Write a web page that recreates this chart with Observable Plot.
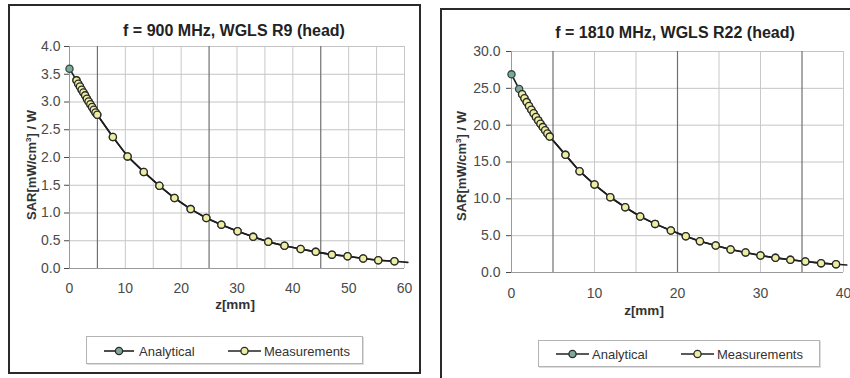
<!DOCTYPE html>
<html>
<head>
<meta charset="utf-8">
<script src="https://cdn.jsdelivr.net/npm/d3@7"></script>
<script src="https://cdn.jsdelivr.net/npm/@observablehq/plot@0.6"></script>
<style>
  html, body { margin: 0; padding: 0; background: #fff; }
  #root { position: relative; width: 850px; height: 378px; overflow: hidden; background: #fff;
          font-family: "Liberation Sans", Arial, Helvetica, sans-serif; color: #222; }
  .panel { position: absolute; box-sizing: border-box; border: 2px solid #2a2a2a; background: #fff; }
  .chart { position: absolute; top: 0; }
  .title { position: absolute; transform: translate(-50%, -50%); font-weight: bold; font-size: 16px; white-space: nowrap; color: #222; }
  .ylab { position: absolute; transform: translate(-50%, -50%) rotate(-90deg); font-weight: bold; font-size: 13px; white-space: nowrap; color: #333; }
  .ylab sup { font-size: 8px; vertical-align: 5px; line-height: 0; }
  .xlab { position: absolute; transform: translate(-50%, -50%); font-weight: bold; font-size: 13.5px; white-space: nowrap; color: #333; line-height: 1; }
  .legend { position: absolute; box-sizing: border-box; border: 1px solid #b4b4b4; background: #fff; box-shadow: 1px 1px 0 #ddd; }
  .legend svg { position: absolute; left: 0; top: 0; }
  .legend span { position: absolute; font-size: 13px; color: #333; transform: translateY(-50%); white-space: nowrap; }
</style>
</head>
<body>
<div id="root">
  <div class="panel" style="left:8px;top:4px;width:413px;height:370px;"></div>
  <div class="panel" style="left:440px;top:8px;width:430px;height:390px;"></div>
</div>
<script>
// ---------- data: left panel (900 MHz) ----------
const titleLeft = "f = 900 MHz, WGLS R9 (head)";
const zAnalLeft = [0, 1.25, 1.56, 1.87, 2.18, 2.49, 2.80, 3.11, 3.42, 3.73, 4.04, 4.35, 4.66, 4.97,
  7.77, 10.4, 13.3, 16.1, 18.8, 21.7, 24.5, 27.2, 30.1, 32.9, 35.6, 38.5, 41.4, 44.1, 47.0, 49.8, 52.6, 55.3, 58.2, 60.6];
const sarAnalLeft = [3.60, 3.39, 3.33, 3.28, 3.22, 3.17, 3.12, 3.06, 3.01, 2.96, 2.91, 2.86, 2.81, 2.77,
  2.37, 2.02, 1.74, 1.49, 1.27, 1.07, 0.91, 0.79, 0.67, 0.57, 0.48, 0.41, 0.35, 0.30, 0.25, 0.22, 0.18, 0.15, 0.13, 0.11];
const zMeasLeft = [1.25, 1.56, 1.87, 2.18, 2.49, 2.80, 3.11, 3.42, 3.73, 4.04, 4.35, 4.66, 4.97,
  7.77, 10.4, 13.3, 16.1, 18.8, 21.7, 24.5, 27.2, 30.1, 32.9, 35.6, 38.5, 41.4, 44.1, 47.0, 49.8, 52.6, 55.3, 58.2];
const sarMeasLeft = [3.39, 3.33, 3.28, 3.22, 3.17, 3.12, 3.06, 3.01, 2.96, 2.91, 2.86, 2.81, 2.77,
  2.37, 2.02, 1.74, 1.49, 1.27, 1.07, 0.91, 0.79, 0.67, 0.57, 0.48, 0.41, 0.35, 0.30, 0.25, 0.22, 0.18, 0.15, 0.13];
const xTicksLeft = [0, 10, 20, 30, 40, 50, 60];
const yTicksLeft = [0, 0.5, 1.0, 1.5, 2.0, 2.5, 3.0, 3.5, 4.0];
const xGridLeft = [5, 10, 15, 20, 25, 30, 35, 40, 45, 50, 55, 60];
const xGridDarkLeft = [5, 25, 45];

// ---------- data: right panel (1810 MHz) ----------
const titleRight = "f = 1810 MHz, WGLS R22 (head)";
const zAnalRight = [0, 0.92, 1.28, 1.56, 1.83, 2.11, 2.39, 2.66, 2.94, 3.22, 3.49, 3.77, 4.05, 4.32, 4.60,
  6.5, 8.2, 10.0, 11.9, 13.7, 15.5, 17.3, 19.2, 21.0, 22.7, 24.6, 26.4, 28.2, 30.0, 31.8, 33.6, 35.4, 37.3, 39.1, 40.4];
const sarAnalRight = [26.9, 24.9, 24.2, 23.66, 23.13, 22.61, 22.10, 21.61, 21.12, 20.65, 20.19, 19.74, 19.30, 18.87, 18.45,
  15.97, 13.75, 11.94, 10.22, 8.86, 7.6, 6.6, 5.7, 4.93, 4.25, 3.66, 3.12, 2.71, 2.31, 1.99, 1.72, 1.49, 1.27, 1.13, 1.02];
const zMeasRight = [1.28, 1.56, 1.83, 2.11, 2.39, 2.66, 2.94, 3.22, 3.49, 3.77, 4.05, 4.32, 4.60,
  6.5, 8.2, 10.0, 11.9, 13.7, 15.5, 17.3, 19.2, 21.0, 22.7, 24.6, 26.4, 28.2, 30.0, 31.8, 33.6, 35.4, 37.3, 39.1];
const sarMeasRight = [24.2, 23.66, 23.13, 22.61, 22.10, 21.61, 21.12, 20.65, 20.19, 19.74, 19.30, 18.87, 18.45,
  15.97, 13.75, 11.94, 10.22, 8.86, 7.6, 6.6, 5.7, 4.93, 4.25, 3.66, 3.12, 2.71, 2.31, 1.99, 1.72, 1.49, 1.27, 1.13];
const xTicksRight = [0, 10, 20, 30, 40];
const yTicksRight = [0, 5, 10, 15, 20, 25, 30];
const xGridRight = [5, 10, 15, 20, 25, 30, 35, 40];
const xGridDarkRight = [5, 20, 35];

const seriesNames = ["Analytical", "Measurements"];
const seriesFill = {Analytical: "#7fa89a", Measurements: "#eeeea2"};

function makeChart(cfg) {
  const anal = cfg.zAnal.map((z, i) => ({z, v: cfg.sarAnal[i]}));
  const meas = cfg.zMeas.map((z, i) => ({z, v: cfg.sarMeas[i]}));
  const xMax = cfg.xDomain[1];
  return Plot.plot({
    width: 425, height: 320,
    marginTop: cfg.mt, marginBottom: cfg.mb, marginLeft: cfg.ml, marginRight: cfg.mr,
    style: {background: "transparent", fontFamily: "'Liberation Sans', Arial, sans-serif", fontSize: "14px", color: "#4a4a4a", overflow: "visible"},
    x: {domain: cfg.xDomain, ticks: cfg.xTicks, tickFormat: d => String(d), label: null, tickSize: 0, tickPadding: cfg.xPad},
    y: {domain: cfg.yDomain, ticks: cfg.yTicks, tickFormat: d => d.toFixed(1), label: null, tickSize: 5, tickPadding: cfg.yPad},
    marks: [
      Plot.ruleY(cfg.yTicks.filter(d => d > 0), {stroke: "#c4c4c4", strokeWidth: 1}),
      Plot.ruleX(cfg.xGrid.filter(d => !cfg.xGridDark.includes(d)), {stroke: "#c8c8c8", strokeWidth: 1}),
      Plot.ruleX(cfg.xGridDark, {stroke: "#707070", strokeWidth: 1.2}),
      Plot.ruleX([0], {stroke: "#9a9a9a", strokeWidth: 1}),
      Plot.ruleY([0], {stroke: "#9a9a9a", strokeWidth: 1}),
      Plot.line(anal, {x: "z", y: "v", stroke: "#1e1e1e", strokeWidth: 1.6}),
      Plot.dot(anal.filter(d => d.z <= xMax), {x: "z", y: "v", r: 3.6, fill: seriesFill.Analytical, stroke: "#2f4a40", strokeWidth: 1.3}),
      Plot.line(meas, {x: "z", y: "v", stroke: "#1e1e1e", strokeWidth: 1.6}),
      Plot.dot(meas, {x: "z", y: "v", r: 3.6, fill: seriesFill.Measurements, stroke: "#2a2a2a", strokeWidth: 1.3})
    ]
  });
}

function addText(cls, html, x, y) {
  const d = document.createElement("div");
  d.className = cls;
  d.style.left = x + "px";
  d.style.top = y + "px";
  d.innerHTML = html;
  document.getElementById("root").appendChild(d);
}

function addLegend(left, top, w, h, items) {
  const box = document.createElement("div");
  box.className = "legend";
  box.style.left = left + "px"; box.style.top = top + "px";
  box.style.width = w + "px"; box.style.height = h + "px";
  const ns = "http://www.w3.org/2000/svg";
  const svg = document.createElementNS(ns, "svg");
  svg.setAttribute("width", w); svg.setAttribute("height", h);
  items.forEach(it => {
    const ln = document.createElementNS(ns, "line");
    ln.setAttribute("x1", it.x1); ln.setAttribute("x2", it.x2);
    ln.setAttribute("y1", it.cy); ln.setAttribute("y2", it.cy);
    ln.setAttribute("stroke", "#222"); ln.setAttribute("stroke-width", 1.6);
    svg.appendChild(ln);
    const c = document.createElementNS(ns, "circle");
    c.setAttribute("cx", (it.x1 + it.x2) / 2); c.setAttribute("cy", it.cy); c.setAttribute("r", 3.6);
    c.setAttribute("fill", seriesFill[it.name]); c.setAttribute("stroke", "#2a2a2a"); c.setAttribute("stroke-width", 1.3);
    svg.appendChild(c);
  });
  box.appendChild(svg);
  items.forEach(it => {
    const s = document.createElement("span");
    s.textContent = it.name;
    s.style.left = it.tx + "px"; s.style.top = it.cy + "px";
    box.appendChild(s);
  });
  document.getElementById("root").appendChild(box);
}

const root = document.getElementById("root");

const leftChart = makeChart({
  zAnal: zAnalLeft, sarAnal: sarAnalLeft, zMeas: zMeasLeft, sarMeas: sarMeasLeft,
  xDomain: [0, 60], yDomain: [0, 4], xTicks: xTicksLeft, yTicks: yTicksLeft,
  xGrid: xGridLeft, xGridDark: xGridDarkLeft,
  mt: 46, mb: 52, ml: 69, mr: 21, xPad: 15, yPad: 4
});
leftChart.classList.add("chart");
leftChart.style.left = "0px";
root.appendChild(leftChart);

const rightChart = makeChart({
  zAnal: zAnalRight, sarAnal: sarAnalRight, zMeas: zMeasRight, sarMeas: sarMeasRight,
  xDomain: [0, 40], yDomain: [0, 30], xTicks: xTicksRight, yTicks: yTicksRight,
  xGrid: xGridRight, xGridDark: xGridDarkRight,
  mt: 51, mb: 48, ml: 86, mr: 7, xPad: 16, yPad: 6
});
rightChart.classList.add("chart");
rightChart.style.left = "425px";
root.appendChild(rightChart);

addText("title", titleLeft, 234, 31);
addText("title", titleRight, 675, 33);
addText("ylab", "SAR[mW/cm<sup>3</sup>] / W", 31, 165);
addText("ylab", "SAR[mW/cm<sup>3</sup>] / W", 461, 166);
addText("xlab", "z[mm]", 235, 305);
addText("xlab", "z[mm]", 644, 311);

addLegend(86, 336, 277, 28, [
  {name: seriesNames[0], x1: 17, x2: 47, cy: 14, tx: 52},
  {name: seriesNames[1], x1: 141, x2: 174, cy: 14, tx: 177}
]);
addLegend(538, 340, 282, 27, [
  {name: seriesNames[0], x1: 17, x2: 50, cy: 13, tx: 53},
  {name: seriesNames[1], x1: 142, x2: 175, cy: 13, tx: 178}
]);
</script>
</body>
</html>
